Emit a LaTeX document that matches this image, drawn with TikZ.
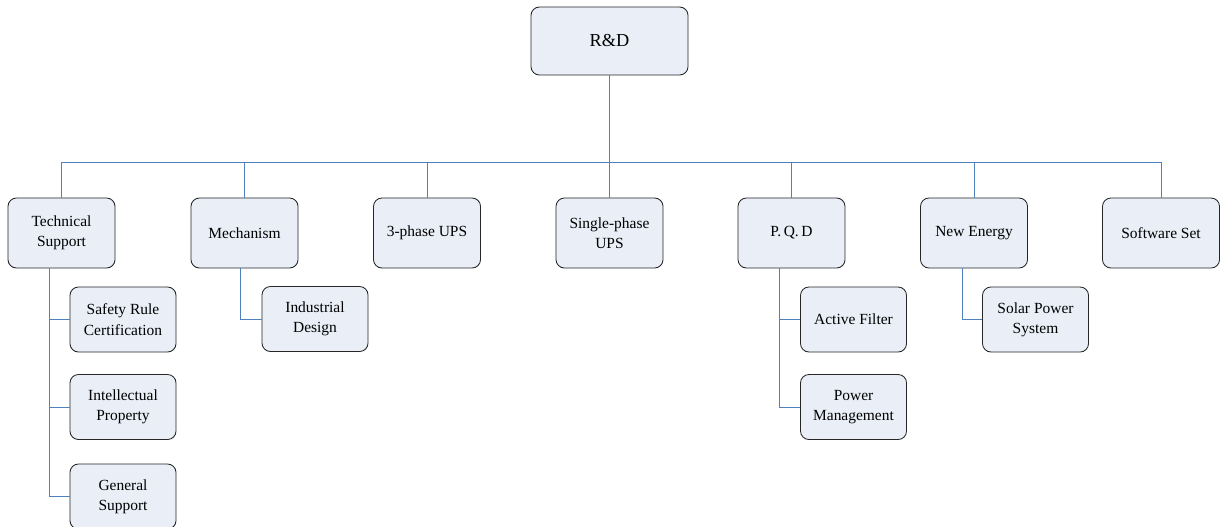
\documentclass[tikz,border=0pt]{standalone}
\usepackage{fontspec}
\setmainfont{Liberation Serif}
\usetikzlibrary{positioning}
\definecolor{linkblue}{RGB}{79,129,189}
\definecolor{boxfill}{RGB}{233,238,247}

\begin{document}
\begin{tikzpicture}[x=0.025cm,y=-0.025cm,
  unit/.style={draw=black!85,fill=boxfill,rounded corners=6pt,line width=0.6pt,
    minimum width=2.675cm,minimum height=1.75cm,align=center,inner sep=1pt,
    font=\fontsize{11}{14.5}\selectfont},
  subunit/.style={unit,minimum width=2.65cm,minimum height=1.625cm},
  link/.style={draw=linkblue,line width=0.6pt}]

  \useasboundingbox (0,0) rectangle (1220,526);

  % head
  \node[unit,minimum width=3.925cm,minimum height=1.7cm,
    font=\fontsize{13}{15}\selectfont] (rd) at (609.5,41) {R\&D};
  \coordinate (bus) at (609.5,162);

  % departments
  \node[unit] (ts)  at (61.5,233)  {Technical\\Support};
  \node[unit] (mec) at (244.5,233) {Mechanism};
  \node[unit] (tri) at (427,233)   {3-phase UPS};
  \node[unit] (sgl) at (609.5,233) {Single-phase\\UPS};
  \node[unit] (pqd) at (791.5,233) {P.\,Q.\,D};
  \node[unit] (ne)  at (974,233)   {New Energy};
  \node[unit,minimum width=2.925cm] (sw) at (1161,233) {Software Set};

  % sections
  \node[subunit] (src) at (123,319.5) {Safety Rule\\Certification};
  \node[subunit] (ip)  at (123,407)   {Intellectual\\Property};
  \node[subunit] (gs)  at (123,496.5) {General\\Support};
  \node[subunit] (ind) at (315,319)   {Industrial\\Design};
  \node[subunit] (af)  at (853.5,319.5) {Active Filter};
  \node[subunit] (pm)  at (853.5,407) {Power\\Management};
  \node[subunit] (sol) at (1035.5,319.5) {Solar Power\\System};

  % links
  \draw[link] (rd) -- (bus);
  \foreach \d in {ts,mec,tri,sgl,pqd,ne,sw}
    \draw[link] (\d.north) |- (bus);

  \foreach \s in {src,ip,gs}
    \draw[link] ([xshift=-0.29cm]ts.south) |- (\s.west);
  \draw[link] ([xshift=-0.09cm]mec.south) |- (ind.west);
  \foreach \s in {af,pm}
    \draw[link] ([xshift=-0.29cm]pqd.south) |- (\s.west);
  \draw[link] ([xshift=-0.3cm]ne.south) |- (sol.west);

\end{tikzpicture}
\end{document}
